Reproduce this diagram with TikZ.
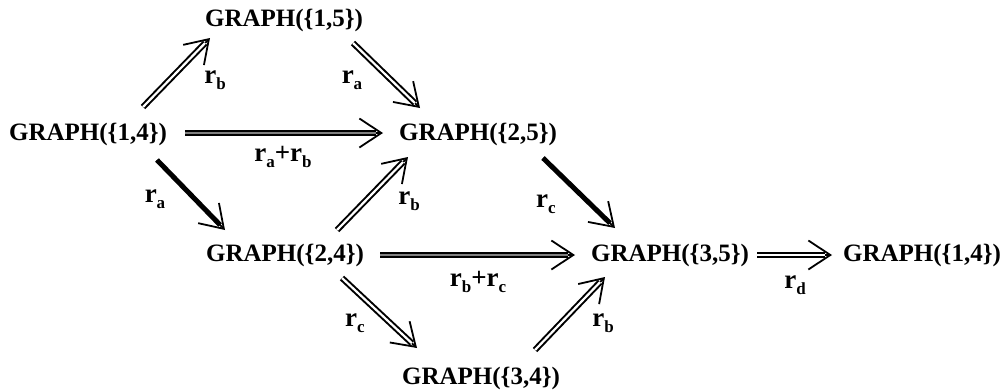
\documentclass[tikz,border=0pt]{standalone}
\usepackage{fontspec}
\setmainfont{Liberation Serif}
\usetikzlibrary{arrows.meta,calc}
\tikzset{
  g/.style={inner sep=0pt, font=\bfseries\fontsize{25}{28}\selectfont},
  lab/.style={inner sep=0pt, font=\bfseries\fontsize{27}{28}\selectfont},
  tipline/.style={line width=1.8pt, -{Straight Barb[length=22pt,width=29pt]}},
  dbl/.style={line width=2pt, double distance=2.2pt, double=white, shorten >=7pt},
  heavy/.style={line width=2.4pt, double distance=1.6pt, double=black!50, shorten >=7pt},
  bold/.style={line width=5pt, shorten >=7pt},
}
\newcommand\arr[3]{\draw[tipline] #2 -- #3; \draw[#1] #2 -- #3;}
\newcommand\sub[1]{\raisebox{-6pt}{\fontsize{17}{17}\selectfont #1}}
\begin{document}
\begin{tikzpicture}[x=1pt,y=-1pt]
\useasboundingbox (0,0) rectangle (1006,391);
\node[g] (A) at (88,134) {GRAPH(\{1,4\})};
\node[g] (B) at (284,20) {GRAPH(\{1,5\})};
\node[g] (C) at (478,134) {GRAPH(\{2,5\})};
\node[g] (D) at (285,255) {GRAPH(\{2,4\})};
\node[g] (E) at (670,255) {GRAPH(\{3,5\})};
\node[g] (F) at (922,255) {GRAPH(\{1,4\})};
\node[g] (G) at (481,378) {GRAPH(\{3,4\})};

\arr{dbl}{($(A)+(55,-27)$)}{($(B)+(-74,18)$)}
\arr{dbl}{($(B)+(69,23)$)}{($(C)+(-58,-26)$)}
\arr{heavy}{($(A)+(97,-1)$)}{($(C)+(-95,-1)$)}
\arr{bold}{($(A)+(69,26)$)}{($(D)+(-60,-25)$)}
\arr{dbl}{($(D)+(52,-25)$)}{($(C)+(-70,23)$)}
\arr{bold}{($(C)+(65,24)$)}{($(E)+(-55,-27)$)}
\arr{heavy}{($(D)+(95,0)$)}{($(E)+(-95,0)$)}
\arr{dbl}{($(D)+(57,23)$)}{($(G)+(-64,-30)$)}
\arr{dbl}{($(G)+(54,-28)$)}{($(E)+(-65,22)$)}
\arr{dbl}{($(E)+(87,0)$)}{($(F)+(-90,0)$)}

\node[lab] (l1) at (215,80) {r\sub{b}};
\node[lab] (l2) at (352,80) {r\sub{a}};
\node[lab] (l3) at (283,157) {r\sub{a}+r\sub{b}};
\node[lab] (l4) at (155,199) {r\sub{a}};
\node[lab] (l5) at (409,201) {r\sub{b}};
\node[lab] (l6) at (546,204) {r\sub{c}};
\node[lab] (l7) at (478,282) {r\sub{b}+r\sub{c}};
\node[lab] (l8) at (355,323) {r\sub{c}};
\node[lab] (l9) at (603,323) {r\sub{b}};
\node[lab] (l10) at (795,285) {r\sub{d}};
\end{tikzpicture}
\end{document}
